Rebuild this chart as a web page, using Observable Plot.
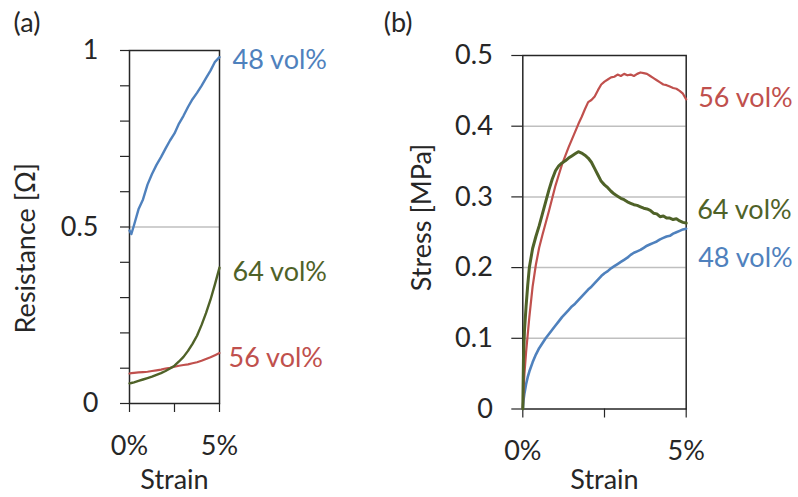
<!DOCTYPE html>
<html>
<head>
<meta charset="utf-8">
<script src="https://cdn.jsdelivr.net/npm/d3@7"></script>
<script src="https://cdn.jsdelivr.net/npm/@observablehq/plot@0.6"></script>
<style>
  html, body { margin: 0; padding: 0; background: #ffffff; }
  #fig { display: flex; flex-direction: row; width: 798px; height: 497px; overflow: hidden; }
  #fig svg { flex: none; }
</style>
</head>
<body>
<div id="fig"></div>
<script>
// ---------- Panel (a): Resistance vs strain ----------
const strainA = [0, 0.1, 0.25, 0.5, 0.75, 1, 1.25, 1.5, 1.75, 2, 2.25, 2.5, 2.75, 3, 3.25, 3.5, 3.75, 4, 4.25, 4.5, 4.75, 5];
const resist48 = [0.49, 0.48, 0.505, 0.55, 0.578, 0.62, 0.65, 0.676, 0.698, 0.722, 0.745, 0.765, 0.793, 0.815, 0.84, 0.862, 0.88, 0.9, 0.922, 0.943, 0.968, 0.981];
const resist56 = [0.085, 0.086, 0.087, 0.088, 0.089, 0.09, 0.092, 0.094, 0.096, 0.099, 0.101, 0.104, 0.107, 0.109, 0.111, 0.114, 0.117, 0.121, 0.126, 0.131, 0.137, 0.143];
const resist64 = [0.057, 0.058, 0.06, 0.064, 0.068, 0.072, 0.076, 0.081, 0.086, 0.092, 0.099, 0.107, 0.119, 0.132, 0.149, 0.169, 0.192, 0.222, 0.256, 0.294, 0.338, 0.385];

// ---------- Panel (b): Stress vs strain ----------
const strainB = [0, 0.02, 0.05, 0.1, 0.15, 0.2, 0.3, 0.4, 0.5, 0.6, 0.7, 0.8, 0.9, 1.0, 1.1, 1.2, 1.3, 1.4, 1.5, 1.6, 1.7, 1.8, 1.9, 2.0, 2.1, 2.2, 2.3, 2.4, 2.5, 2.6, 2.7, 2.8, 2.9, 3.0, 3.1, 3.2, 3.3, 3.4, 3.5, 3.6, 3.7, 3.8, 3.9, 4.0, 4.1, 4.2, 4.3, 4.4, 4.5, 4.6, 4.7, 4.8, 4.9, 5.0];
const stress48 = [0, 0.012, 0.022, 0.035, 0.045, 0.053, 0.066, 0.077, 0.086, 0.093, 0.1, 0.106, 0.112, 0.118, 0.124, 0.13, 0.135, 0.14, 0.145, 0.149, 0.154, 0.159, 0.164, 0.169, 0.173, 0.178, 0.183, 0.188, 0.192, 0.195, 0.199, 0.202, 0.205, 0.208, 0.211, 0.214, 0.218, 0.221, 0.223, 0.225, 0.228, 0.231, 0.233, 0.235, 0.237, 0.24, 0.242, 0.244, 0.245, 0.248, 0.25, 0.252, 0.254, 0.255];
const stress56 = [0, 0.025, 0.05, 0.08, 0.105, 0.13, 0.173, 0.204, 0.228, 0.246, 0.263, 0.28, 0.298, 0.316, 0.331, 0.346, 0.358, 0.37, 0.381, 0.392, 0.403, 0.413, 0.424, 0.434, 0.437, 0.442, 0.451, 0.459, 0.463, 0.466, 0.469, 0.47, 0.473, 0.471, 0.474, 0.472, 0.473, 0.471, 0.474, 0.476, 0.475, 0.474, 0.471, 0.468, 0.465, 0.462, 0.459, 0.458, 0.456, 0.454, 0.453, 0.45, 0.446, 0.438];
const stress64 = [0, 0.07, 0.11, 0.145, 0.175, 0.2, 0.227, 0.244, 0.259, 0.276, 0.293, 0.31, 0.325, 0.337, 0.344, 0.348, 0.351, 0.355, 0.358, 0.361, 0.364, 0.362, 0.359, 0.355, 0.349, 0.34, 0.331, 0.322, 0.317, 0.313, 0.308, 0.304, 0.301, 0.298, 0.296, 0.293, 0.291, 0.289, 0.288, 0.286, 0.284, 0.283, 0.281, 0.277, 0.276, 0.272, 0.273, 0.27, 0.27, 0.268, 0.269, 0.266, 0.264, 0.263];

// ---------- Series & labels ----------
const seriesNames = ["48 vol%", "56 vol%", "64 vol%"];
const seriesColors = ["#4f81bd", "#c0504d", "#4f6228"];
const labelYA = [0.972, 0.128, 0.372];   // label anchor values, panel (a)
const labelYB = [0.213, 0.439, 0.281];   // label anchor values, panel (b)

// ---------- Ticks ----------
const xTicks = [0, 2.5, 5];
const xTickLabels = ["0%", "", "5%"];
const yMajorA = [0, 0.5, 1];
const yMinorA = [0, 0.1, 0.2, 0.3, 0.4, 0.5, 0.6, 0.7, 0.8, 0.9, 1];
const yGridA = [0.5];
const yMajorB = [0, 0.1, 0.2, 0.3, 0.4, 0.5];
const yGridB = [0.1, 0.2, 0.3, 0.4];

const FONT = "Lato, 'Open Sans', sans-serif";
const INK = "#262626";

function rowsFor(strain, valuesList) {
  return valuesList.map((vals, i) => vals.map((v, j) => ({strain: strain[j], value: v, series: seriesNames[i]})));
}

function panel(o) {
  const rows = rowsFor(o.strain, o.values);
  const marks = [
    Plot.ruleY(o.grid, {stroke: "#bfbfbf", strokeWidth: 1.5}),
    Plot.axisY({ticks: o.minor, tickSize: o.tickSize, tickFormat: () => "", stroke: INK, strokeWidth: 1.2}),
    Plot.axisY({ticks: o.major, tickSize: 0, tickPadding: o.tickPad, tickFormat: d => String(d), fontSize: 27, fill: INK}),
    Plot.axisX({ticks: xTicks, tickSize: 9, tickPadding: 23, tickFormat: d => xTickLabels[xTicks.indexOf(d)], fontSize: 27, fill: INK, stroke: INK, strokeWidth: 1.2}),
    Plot.frame({stroke: INK, strokeWidth: 1.5}),
    ...rows.map((r, i) => Plot.line(r, {x: "strain", y: "value", stroke: seriesColors[i], strokeWidth: o.widths[i], curve: "linear"})),
    ...seriesNames.map((name, i) => Plot.text([name], {x: 5, y: o.labelY[i], text: d => d, fill: seriesColors[i], textAnchor: "start", dx: o.labelDx[i], fontSize: 27})),
    Plot.text([o.yTitle], {frameAnchor: "left", y: o.yTitleAt, text: d => d, rotate: -90, textAnchor: "middle", lineAnchor: "middle", dx: o.yTitleDx, fontSize: 27, fill: INK}),
    Plot.text(["Strain"], {frameAnchor: "bottom", dy: o.strainDy, text: d => d, textAnchor: "middle", lineAnchor: "middle", fontSize: 27, fill: INK}),
    Plot.text([o.tag], {frameAnchor: "top-left", dx: o.tagDx, dy: o.tagDy, text: d => d, textAnchor: "start", lineAnchor: "middle", fontSize: 27, fill: INK})
  ];
  return Plot.plot({
    width: o.width, height: 497,
    marginLeft: o.ml, marginRight: o.mr, marginTop: o.mt, marginBottom: o.mb,
    x: {domain: [0, 5], label: null},
    y: {domain: o.yDomain, label: null},
    style: {fontFamily: FONT, color: INK, background: "transparent", overflow: "visible"},
    marks
  });
}

const svgA = panel({
  width: 370, ml: 129, mr: 151, mt: 50, mb: 94,
  yDomain: [0, 1], strain: strainA, values: [resist48, resist56, resist64],
  grid: yGridA, minor: yMinorA, major: yMajorA, tickSize: 9, tickPad: 31,
  widths: [2.4, 2.2, 2.4], labelY: labelYA, labelDx: [13, 9, 13],
  yTitle: "Resistance [Ω]", yTitleAt: 0.44, yTitleDx: -103,
  strainDy: 77, tag: "(a)", tagDx: -116, tagDy: -27
});
const svgB = panel({
  width: 428, ml: 152.3, mr: 112.3, mt: 55, mb: 88.5,
  yDomain: [0, 0.5], strain: strainB, values: [stress48, stress56, stress64],
  grid: yGridB, minor: yMajorB, major: yMajorB, tickSize: 11, tickPad: 30,
  widths: [2.6, 2.2, 3.0], labelY: labelYB, labelDx: [12, 12, 11],
  yTitle: "Stress [MPa]", yTitleAt: 0.271, yTitleDx: -100,
  strainDy: 71.5, tag: "(b)", tagDx: -139, tagDy: -32
});
document.getElementById("fig").append(svgA, svgB);
</script>
</body>
</html>
